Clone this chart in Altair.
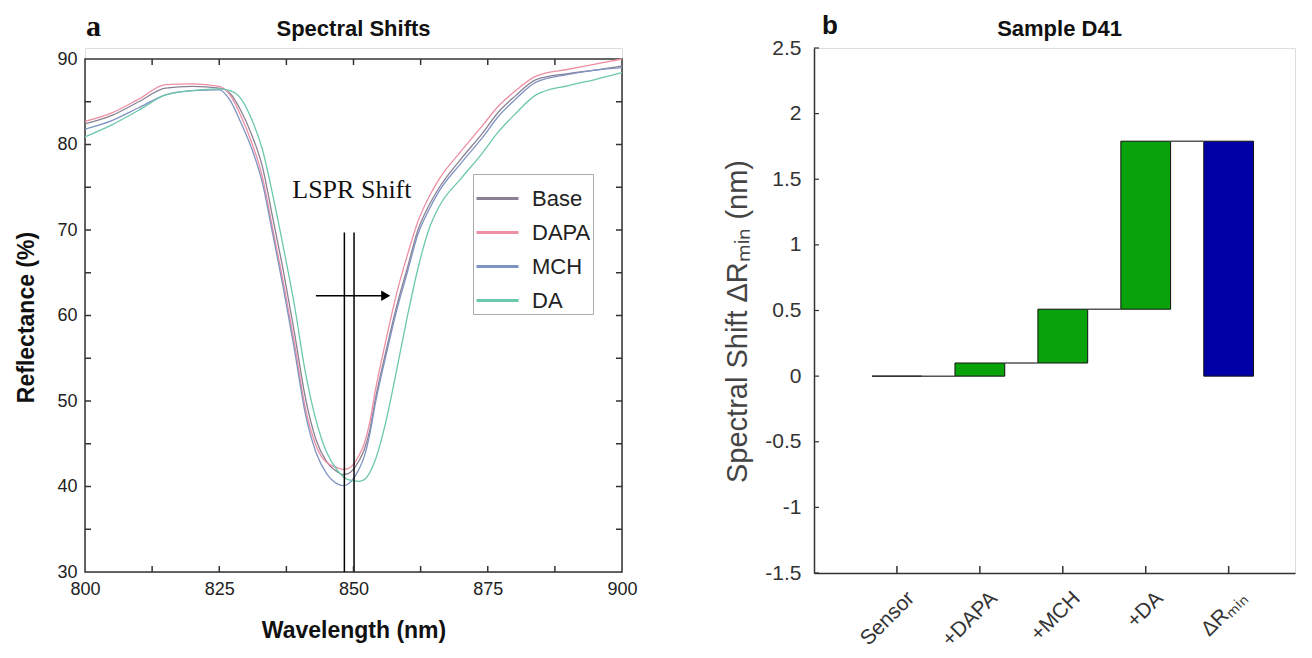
import json
import altair as alt
import pandas as pd

# ---------------- Panel a: reflectance spectra ----------------
wavelength = [800, 805, 810, 815, 820, 825, 827, 829, 831, 833, 835, 837, 839, 841, 843, 845,
              847, 848, 849, 851, 852, 853, 854, 856, 858, 860, 862, 864, 866, 870, 874, 877,
              880, 884, 890, 895, 900]
base = [82.4, 83.4, 85.0, 86.6, 86.8, 86.6, 86.0, 84.0, 81.2, 77.5, 71.3, 65.0, 58.0, 50.5, 45.5, 42.9,
        41.7, 41.4, 41.5, 43.0, 44.3, 46.5, 50.0, 55.7, 61.0, 65.5, 70.0, 72.8, 75.0, 78.3, 81.3, 83.8,
        85.6, 87.6, 88.3, 88.7, 89.2]
dapa = [82.7, 83.7, 85.3, 87.0, 87.1, 86.8, 85.8, 83.4, 80.3, 76.3, 70.0, 63.7, 56.8, 49.3, 44.8, 42.8,
        42.2, 42.0, 42.1, 43.6, 45.0, 47.4, 51.0, 57.0, 62.5, 67.0, 71.0, 73.8, 76.0, 79.2, 82.2, 84.5,
        86.2, 88.0, 88.8, 89.4, 90.0]
mch = [81.8, 82.8, 84.3, 85.8, 86.3, 86.4, 85.2, 82.6, 79.6, 75.6, 69.4, 63.0, 56.0, 48.6, 44.0, 41.5,
       40.3, 40.1, 40.3, 42.0, 43.5, 46.0, 49.5, 55.2, 60.5, 65.0, 69.5, 72.3, 74.6, 77.8, 80.8, 83.3,
       85.2, 87.3, 88.2, 88.7, 89.0]
da = [80.9, 82.3, 84.0, 85.8, 86.3, 86.5, 86.3, 85.4, 83.0, 79.5, 74.0, 67.8, 61.2, 53.5, 47.8, 44.0,
      41.9, 41.2, 40.8, 40.6, 40.8, 41.6, 43.0, 47.5, 53.5, 59.8, 65.5, 70.0, 72.8, 76.0, 79.0, 81.5,
      83.5, 85.8, 86.9, 87.6, 88.4]
series_names = ["Base", "DAPA", "MCH", "DA"]
series_colors = ["#8a8294", "#ee8fa3", "#7f93c2", "#6cc8ac"]

shift_lines_x = [848.3, 850.1]
shift_lines_y0 = [30, 30]
shift_lines_y1 = [69.7, 69.7]
arrow_x0 = [843.0]
arrow_x1 = [856.0]
arrow_y = [62.3]
lspr_text = ["LSPR Shift"]
lspr_x = [849.7]
lspr_y = [73.8]

x_ticks_a = [800, 825, 850, 875, 900]
x_minor_a = [812.5, 825, 837.5, 850, 862.5, 875, 887.5]
y_ticks_a = [30, 40, 50, 60, 70, 80, 90]
y_minor_a = [35, 40, 45, 50, 55, 60, 65, 70, 75, 80, 85]

# ---------------- Panel b: waterfall ----------------
steps = ["Sensor", "+DAPA", "+MCH", "+DA", "ΔRₘᵢₙ"]
bar_start = [0.0, 0.0, 0.1, 0.51, 0.0]
bar_end = [0.0, 0.1, 0.51, 1.79, 1.79]
bar_kind = ["step", "step", "step", "step", "total"]
y_ticks_b = [-1.5, -1.0, -0.5, 0.0, 0.5, 1.0, 1.5, 2.0, 2.5]

FONT = "Liberation Sans, Arial, sans-serif"
TOP_GAP = 11           # panel a frame starts lower than panel b axis
W1, H1 = 537, 513 + TOP_GAP
W2, H2 = 481, 525

rows = []
for name, vals in zip(series_names, [base, dapa, mch, da]):
    for w, v in zip(wavelength, vals):
        rows.append({"wl": w, "R": v, "series": name})
spec_df = pd.DataFrame(rows)

xs = alt.Scale(domain=[800, 900], nice=False, zero=False)
ys = alt.Scale(domain=[30, 90], nice=False, zero=False, range=[H1, TOP_GAP])
ax_x = alt.Axis(values=x_ticks_a, title="Wavelength (nm)", titleFontSize=23, titleFontWeight="bold",
                titleColor="#111", titlePadding=21, labelFontSize=18, labelPadding=8, labelColor="#222",
                ticks=False, domain=False, grid=False, labelFlush=False)
ax_y = alt.Axis(values=y_ticks_a, title="Reflectance (%)", titleFontSize=23, titleFontWeight="bold",
                titleColor="#111", titlePadding=18, labelFontSize=18, labelPadding=8, labelColor="#222",
                ticks=False, domain=False, grid=False, labelFlush=False, titleY=269)

lines = alt.Chart(spec_df).mark_line(strokeWidth=1.3, interpolate="monotone").encode(
    x=alt.X("wl:Q", scale=xs, axis=ax_x),
    y=alt.Y("R:Q", scale=ys, axis=ax_y),
    color=alt.Color("series:N", scale=alt.Scale(domain=series_names, range=series_colors),
                    legend=alt.Legend(orient="none", legendX=388, legendY=126, title=None,
                                      symbolType="stroke", symbolSize=1764, symbolStrokeWidth=3,
                                      labelFontSize=22, labelFont=FONT, labelColor="#222",
                                      strokeColor="#aaa", fillColor="white", padding=2,
                                      rowPadding=0, labelOffset=12)),
    detail="series:N",
)

frame_df = pd.DataFrame({"x0": [x_ticks_a[0]], "x1": [x_ticks_a[-1]],
                         "y0": [y_ticks_a[0]], "y1": [y_ticks_a[-1]]})
frame = alt.Chart(frame_df).mark_rect(fill="transparent", stroke="#333", strokeWidth=1.5).encode(
    x=alt.X("x0:Q", scale=xs, axis=ax_x), x2="x1:Q",
    y=alt.Y("y0:Q", scale=ys, axis=ax_y), y2="y1:Q")

vl_df = pd.DataFrame({"x": shift_lines_x, "y0": shift_lines_y0, "y1": shift_lines_y1})
vlines = alt.Chart(vl_df).mark_rule(color="black", strokeWidth=1.5).encode(
    x=alt.X("x:Q", scale=xs, axis=ax_x), y=alt.Y("y0:Q", scale=ys, axis=ax_y), y2="y1:Q")

ar_df = pd.DataFrame({"x0": arrow_x0, "x1": arrow_x1, "y": arrow_y})
arrow = alt.Chart(ar_df).mark_rule(color="black", strokeWidth=1.5).encode(
    x=alt.X("x0:Q", scale=xs, axis=ax_x), x2="x1:Q", y=alt.Y("y:Q", scale=ys, axis=ax_y))
head = alt.Chart(ar_df).mark_point(shape="triangle-right", filled=True, size=110, color="black",
                                   opacity=1).encode(
    x=alt.X("x1:Q", scale=xs, axis=ax_x), y=alt.Y("y:Q", scale=ys, axis=ax_y))

tx_df = pd.DataFrame({"t": lspr_text, "x": lspr_x, "y": lspr_y})
lspr = alt.Chart(tx_df).mark_text(font="Liberation Serif, Times New Roman, serif", fontSize=26,
                                  color="#111", align="center", baseline="alphabetic").encode(
    x=alt.X("x:Q", scale=xs, axis=ax_x), y=alt.Y("y:Q", scale=ys, axis=ax_y), text="t:N")

# inward ticks on all four sides of the frame
xt_df = pd.DataFrame({"v": x_minor_a, "top": [y_ticks_a[-1]] * len(x_minor_a)})
yt_df = pd.DataFrame({"v": y_minor_a})
tick_b = alt.Chart(xt_df).mark_rule(color="#333", strokeWidth=1.5).encode(
    x=alt.X("v:Q", scale=xs, axis=ax_x), y=alt.value(H1), y2=alt.value(H1 - 6))
tick_t = alt.Chart(xt_df).mark_rule(color="#333", strokeWidth=1.5).encode(
    x=alt.X("v:Q", scale=xs, axis=ax_x), y=alt.Y("top:Q", scale=ys, axis=ax_y),
    y2=alt.value(TOP_GAP + 6))
tick_l = alt.Chart(yt_df).mark_rule(color="#333", strokeWidth=1.5).encode(
    y=alt.Y("v:Q", scale=ys, axis=ax_y), x=alt.value(0), x2=alt.value(6))
tick_r = alt.Chart(yt_df).mark_rule(color="#333", strokeWidth=1.5).encode(
    y=alt.Y("v:Q", scale=ys, axis=ax_y), x=alt.value(W1), x2=alt.value(W1 - 6))

# panel letter and panel title (as text so they share one baseline)
lab_a = alt.Chart(pd.DataFrame({"t": ["a"]})).mark_text(
    font="Liberation Serif, Times New Roman, serif", fontSize=30, fontWeight="bold", color="#111",
    align="left", baseline="alphabetic").encode(text="t:N", x=alt.value(1), y=alt.value(-12))
title_a = alt.Chart(pd.DataFrame({"t": ["Spectral Shifts"]})).mark_text(
    font=FONT, fontSize=22, fontWeight="bold", color="#111",
    align="center", baseline="alphabetic").encode(text="t:N", x=alt.value(W1 / 2), y=alt.value(-12))

panel_a = alt.layer(frame, lines, vlines, arrow, head, lspr, tick_b, tick_t, tick_l, tick_r,
                    lab_a, title_a).properties(width=W1, height=H1)

# ---------------- Panel b ----------------
bars_df = pd.DataFrame({"step": steps, "pos": list(range(1, len(steps) + 1)),
                        "start": bar_start, "end": bar_end, "kind": bar_kind})
conn_df = bars_df.iloc[:-1].copy()

xs2 = alt.Scale(domain=[0, 5.8], nice=False, zero=False)
ys2 = alt.Scale(domain=[-1.5, 2.5], nice=False, zero=False)
label_expr = json.dumps(steps) + "[datum.value - 1]"
ax_x2 = alt.Axis(values=[1, 2, 3, 4, 5], labelExpr=label_expr, labelAngle=-45, labelFontSize=21,
                 labelColor="#333", labelPadding=14, labelOffset=6, title=None, ticks=False, tickSize=0,
                 domain=True, domainColor="#333", domainWidth=1.5, grid=False, labelFlush=False)
ax_y2 = alt.Axis(values=y_ticks_b, labelExpr="'' + datum.value", title="Spectral Shift ΔRₘᵢₙ (nm)",
                 titleFontSize=29, titleFontWeight="normal", titleColor="#444", titlePadding=12,
                 labelFontSize=21, labelColor="#333", labelPadding=13, ticks=False, tickSize=0,
                 domain=True, domainColor="#333", domainWidth=1.5, grid=False, labelFlush=False,
                 titleY=273)

bars = alt.Chart(bars_df).transform_calculate(
    left="datum.pos - 0.3", right="datum.pos + 0.3"
).mark_bar(stroke="#111", strokeWidth=1).encode(
    x=alt.X("left:Q", scale=xs2, axis=ax_x2), x2="right:Q",
    y=alt.Y("start:Q", scale=ys2, axis=ax_y2), y2="end:Q",
    color=alt.Color("kind:N", scale=alt.Scale(domain=["step", "total"], range=["#0aa20a", "#0000a6"]),
                    legend=None),
)
conns = alt.Chart(conn_df).transform_calculate(
    left="datum.pos + 0.3", right="datum.pos + 0.7"
).mark_rule(color="#555", strokeWidth=1.5).encode(
    x=alt.X("left:Q", scale=xs2, axis=ax_x2), x2="right:Q",
    y=alt.Y("end:Q", scale=ys2, axis=ax_y2))

ytb_df = pd.DataFrame({"v": y_ticks_b})
xtb_df = pd.DataFrame({"v": [1, 2, 3, 4, 5]})
tick_yb = alt.Chart(ytb_df).mark_rule(color="#333", strokeWidth=1.2).encode(
    y=alt.Y("v:Q", scale=ys2, axis=ax_y2), x=alt.value(0), x2=alt.value(5))
tick_xb = alt.Chart(xtb_df).mark_rule(color="#333", strokeWidth=1.5).encode(
    x=alt.X("v:Q", scale=xs2, axis=ax_x2), y=alt.value(H2), y2=alt.value(H2 - 7))

lab_b = alt.Chart(pd.DataFrame({"t": ["b"]})).mark_text(
    font=FONT, fontSize=26, fontWeight="bold", color="#111",
    align="left", baseline="alphabetic").encode(text="t:N", x=alt.value(8), y=alt.value(-14))
title_b = alt.Chart(pd.DataFrame({"t": ["Sample D41"]})).mark_text(
    font=FONT, fontSize=22, fontWeight="bold", color="#111",
    align="center", baseline="alphabetic").encode(text="t:N", x=alt.value(W2 / 2 + 5), y=alt.value(-12))

panel_b = alt.layer(bars, conns, tick_yb, tick_xb, lab_b, title_b).properties(width=W2, height=H2)

chart = alt.hconcat(panel_a, panel_b, spacing=85).resolve_scale(
    color="independent"
).properties(
    padding={"left": 7, "top": 3, "right": 2, "bottom": 0}
).configure_view(stroke="transparent").configure(font=FONT)

chart.save("out.html", embed_options={"renderer": "svg", "actions": False})
